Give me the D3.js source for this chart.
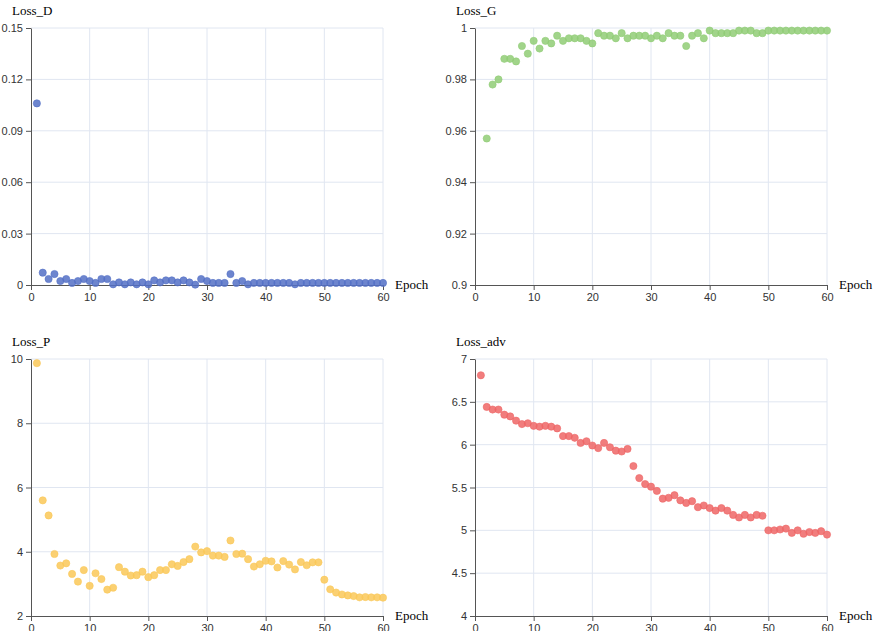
<!DOCTYPE html>
<html>
<head>
<meta charset="utf-8">
<script src="https://cdn.jsdelivr.net/npm/d3@7"></script>
<style>
  body { margin: 0; background: #fff; }
  .tick text { font-family: "Helvetica Neue", Arial, "Liberation Sans", sans-serif; font-size: 11px; fill: #333; }
  .ttl { font-family: "Times New Roman", "Liberation Serif", serif; font-size: 13px; fill: #000; }
</style>
</head>
<body>
<svg width="877" height="631"></svg>
<script>
var epochs = d3.range(1, 61);

var lossD = [0.106, 0.0072, 0.0035, 0.0064, 0.0023, 0.0035, 0.0012, 0.0023, 0.0035, 0.0023,
  0.0012, 0.0035, 0.0035, 0.0004, 0.0015, 0.0004, 0.0015, 0.0004, 0.0015, 0.0004,
  0.0027, 0.0015, 0.0027, 0.0027, 0.0015, 0.0027, 0.0015, 0.0002, 0.0035, 0.0023,
  0.0012, 0.0012, 0.0012, 0.0064, 0.0012, 0.0023, 0.0004, 0.0012, 0.0012, 0.0012,
  0.0012, 0.0012, 0.0012, 0.0012, 0.0004, 0.0012, 0.0012, 0.0012, 0.0012, 0.0012,
  0.0012, 0.0012, 0.0012, 0.0012, 0.0012, 0.0012, 0.0012, 0.0012, 0.0012, 0.0012];

// epoch 1 of Loss_G is below the axis range and not shown
var lossG = [null, 0.957, 0.978, 0.980, 0.988, 0.988, 0.987, 0.993, 0.990, 0.995,
  0.992, 0.995, 0.994, 0.997, 0.995, 0.996, 0.996, 0.996, 0.995, 0.994,
  0.998, 0.997, 0.997, 0.996, 0.998, 0.996, 0.997, 0.997, 0.997, 0.996,
  0.997, 0.996, 0.998, 0.997, 0.997, 0.993, 0.997, 0.998, 0.996, 0.999,
  0.998, 0.998, 0.998, 0.998, 0.999, 0.999, 0.999, 0.998, 0.998, 0.999,
  0.999, 0.999, 0.999, 0.999, 0.999, 0.999, 0.999, 0.999, 0.999, 0.999];

var lossP = [9.87, 5.6, 5.13, 3.93, 3.57, 3.64, 3.31, 3.07, 3.43, 2.94,
  3.33, 3.15, 2.82, 2.88, 3.52, 3.38, 3.26, 3.27, 3.38, 3.21,
  3.27, 3.43, 3.43, 3.61, 3.56, 3.68, 3.77, 4.16, 3.98, 4.02,
  3.88, 3.88, 3.84, 4.35, 3.93, 3.94, 3.77, 3.54, 3.61, 3.72,
  3.70, 3.51, 3.71, 3.60, 3.45, 3.68, 3.58, 3.67, 3.67, 3.13,
  2.83, 2.73, 2.67, 2.64, 2.62, 2.58, 2.59, 2.58, 2.58, 2.57];

var lossAdv = [6.81, 6.44, 6.41, 6.41, 6.35, 6.33, 6.28, 6.24, 6.25, 6.22,
  6.21, 6.22, 6.21, 6.19, 6.10, 6.10, 6.08, 6.02, 6.04, 5.99,
  5.96, 6.02, 5.97, 5.93, 5.92, 5.95, 5.75, 5.61, 5.54, 5.51,
  5.46, 5.37, 5.38, 5.41, 5.35, 5.32, 5.34, 5.27, 5.29, 5.26,
  5.23, 5.26, 5.23, 5.18, 5.15, 5.18, 5.15, 5.18, 5.17, 5.00,
  5.00, 5.01, 5.02, 4.97, 5.00, 4.96, 4.98, 4.97, 4.99, 4.95];

var xTicks = [0, 10, 20, 30, 40, 50, 60];
var ticksD = [0, 0.03, 0.06, 0.09, 0.12, 0.15];
var ticksG = [0.9, 0.92, 0.94, 0.96, 0.98, 1];
var ticksP = [2, 4, 6, 8, 10];
var ticksAdv = [4, 4.5, 5, 5.5, 6, 6.5, 7];

var panels = [
  { title: "Loss_D", values: lossD, ticks: ticksD, color: "#5470c6", left: 31, top: 28 },
  { title: "Loss_G", values: lossG, ticks: ticksG, color: "#91cc75", left: 475, top: 28 },
  { title: "Loss_P", values: lossP, ticks: ticksP, color: "#fac858", left: 31, top: 359 },
  { title: "Loss_adv", values: lossAdv, ticks: ticksAdv, color: "#ee6666", left: 475, top: 359 }
];

var svg = d3.select("svg");
var w = 352, h = 257;

panels.forEach(function (p) {
  var g = svg.append("g").attr("transform", "translate(" + p.left + "," + p.top + ")");

  var x = d3.scaleLinear().domain([0, 60]).range([0, w]);
  var y = d3.scaleLinear().domain(d3.extent(p.ticks)).range([h, 0]);

  // grid
  g.append("g").selectAll("line").data(p.ticks.slice(1)).enter().append("line")
    .attr("x1", 0).attr("x2", w)
    .attr("y1", function (d) { return y(d); })
    .attr("y2", function (d) { return y(d); })
    .attr("stroke", "#e0e6f1");
  g.append("g").selectAll("line").data(xTicks.slice(1)).enter().append("line")
    .attr("y1", 0).attr("y2", h)
    .attr("x1", function (d) { return x(d); })
    .attr("x2", function (d) { return x(d); })
    .attr("stroke", "#e0e6f1");

  var xAxis = g.append("g").attr("transform", "translate(0," + h + ")")
    .call(d3.axisBottom(x).tickValues(xTicks).tickSize(5).tickSizeOuter(0).tickPadding(3));
  var yAxis = g.append("g")
    .call(d3.axisLeft(y).tickValues(p.ticks).tickSize(5).tickSizeOuter(0).tickPadding(3)
      .tickFormat(function (d) { return String(d); }));
  [xAxis, yAxis].forEach(function (a) {
    a.select(".domain").attr("stroke", "#555");
    a.selectAll(".tick line").attr("stroke", "#555");
  });

  g.append("g").selectAll("circle")
    .data(epochs.filter(function (e) { return p.values[e - 1] != null; }))
    .enter().append("circle")
    .attr("cx", function (e) { return x(e); })
    .attr("cy", function (e) { return y(p.values[e - 1]); })
    .attr("r", 3.6)
    .attr("fill", p.color)
    .attr("fill-opacity", 0.85)
    .attr("stroke", p.color)
    .attr("stroke-width", 0.6);

  g.append("text").attr("class", "ttl")
    .attr("x", -19).attr("y", -13)
    .text(p.title);
  g.append("text").attr("class", "ttl")
    .attr("x", w + 12).attr("y", h + 4)
    .text("Epoch");
});
</script>
</body>
</html>
